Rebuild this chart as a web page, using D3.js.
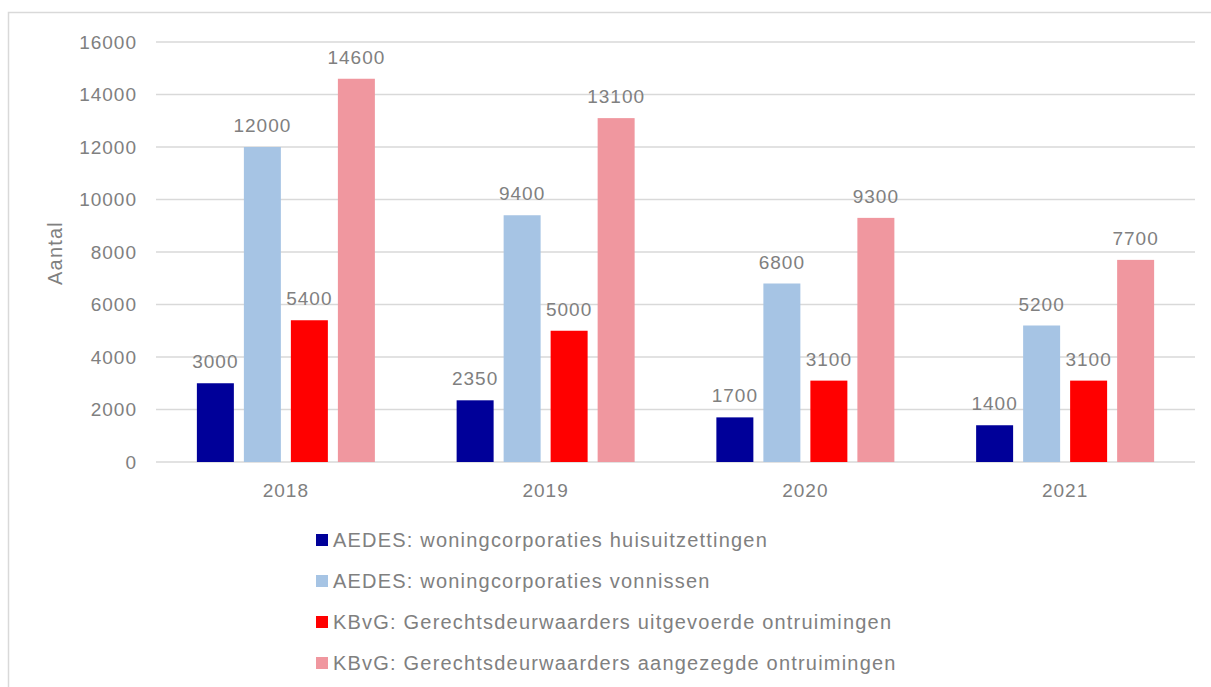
<!DOCTYPE html>
<html>
<head>
<meta charset="utf-8">
<script src="https://cdn.jsdelivr.net/npm/d3@7"></script>
<style>
  body { margin: 0; background: #fff; }
  text { font-family: "Liberation Sans", Arial, sans-serif; fill: #808080; }
</style>
</head>
<body>
<svg id="chart" width="1211" height="687"></svg>
<script>
var years = ["2018", "2019", "2020", "2021"];
var seriesNames = [
  "AEDES: woningcorporaties huisuitzettingen",
  "AEDES: woningcorporaties vonnissen",
  "KBvG: Gerechtsdeurwaarders uitgevoerde ontruimingen",
  "KBvG: Gerechtsdeurwaarders aangezegde ontruimingen"
];
var huisuitzettingen = [3000, 2350, 1700, 1400];
var vonnissen = [12000, 9400, 6800, 5200];
var uitgevoerd = [5400, 5000, 3100, 3100];
var aangezegd = [14600, 13100, 9300, 7700];
var colors = ["#000099", "#a6c4e4", "#ff0000", "#f0979f"];
var yTicks = [0, 2000, 4000, 6000, 8000, 10000, 12000, 14000, 16000];

var values = [huisuitzettingen, vonnissen, uitgevoerd, aangezegd];

var svg = d3.select("#chart");

// chart border (runs off the right and bottom edge)
svg.append("rect")
  .attr("x", 8.5).attr("y", 12.5)
  .attr("width", 1300).attr("height", 800)
  .attr("fill", "none")
  .attr("stroke", "#d9d9d9")
  .attr("stroke-width", 1.5);

var plotLeft = 156, plotRight = 1195, plotTop = 42, plotBottom = 462;

var x0 = d3.scaleBand().domain(years).range([plotLeft, plotRight]);
var x1 = d3.scaleBand().domain(d3.range(4))
  .range([-89, 89]).paddingInner(0.213);
var y = d3.scaleLinear().domain([0, 16000]).range([plotBottom, plotTop]);

// gridlines
svg.append("g").selectAll("line")
  .data(yTicks)
  .enter().append("line")
    .attr("x1", plotLeft).attr("x2", plotRight)
    .attr("y1", function (d) { return y(d); })
    .attr("y2", function (d) { return y(d); })
    .attr("stroke", "#d9d9d9")
    .attr("stroke-width", 1.5);

// y axis labels
var yAxis = svg.append("g")
  .attr("transform", "translate(" + plotLeft + ",0)")
  .call(d3.axisLeft(y).tickValues(yTicks).tickSize(0).tickPadding(19).tickFormat(d3.format("d")));
yAxis.select(".domain").remove();
yAxis.selectAll("text")
  .style("font-size", "19px").style("letter-spacing", "1px")
  .attr("fill", "#808080");

// x axis labels
var xAxis = svg.append("g")
  .attr("transform", "translate(0," + plotBottom + ")")
  .call(d3.axisBottom(x0).tickSize(0).tickPadding(22));
xAxis.select(".domain").remove();
xAxis.selectAll("text")
  .style("font-size", "19px").style("letter-spacing", "1px")
  .attr("fill", "#808080");

svg.append("text")
  .attr("transform", "translate(62,253) rotate(-90)")
  .attr("text-anchor", "middle")
  .style("font-size", "20px").style("letter-spacing", "1.2px")
  .text("Aantal");

// bars
var groups = svg.append("g").selectAll("g")
  .data(years)
  .enter().append("g")
    .attr("transform", function (d) { return "translate(" + (x0(d) + x0.bandwidth() / 2) + ",0)"; });

groups.each(function (year, yi) {
  var g = d3.select(this);
  values.forEach(function (vals, si) {
    var v = vals[yi];
    g.append("rect")
      .attr("x", x1(si))
      .attr("y", y(v))
      .attr("width", x1.bandwidth())
      .attr("height", y(0) - y(v))
      .attr("fill", colors[si]);
    g.append("text")
      .attr("x", x1(si) + x1.bandwidth() / 2)
      .attr("y", y(v) - 15)
      .attr("text-anchor", "middle")
      .style("font-size", "19px").style("letter-spacing", "1px")
      .text(v);
  });
});

// legend
var legend = svg.append("g").selectAll("g")
  .data(seriesNames)
  .enter().append("g")
    .attr("transform", function (d, i) { return "translate(316," + (540 + i * 41) + ")"; });

legend.append("rect")
  .attr("x", 0).attr("y", -6)
  .attr("width", 12).attr("height", 12)
  .attr("fill", function (d, i) { return colors[i]; });

legend.append("text")
  .attr("x", 17)
  .attr("dy", "0.35em")
  .style("font-size", "20px").style("letter-spacing", "1.2px")
  .text(function (d) { return d; });
</script>
</body>
</html>
